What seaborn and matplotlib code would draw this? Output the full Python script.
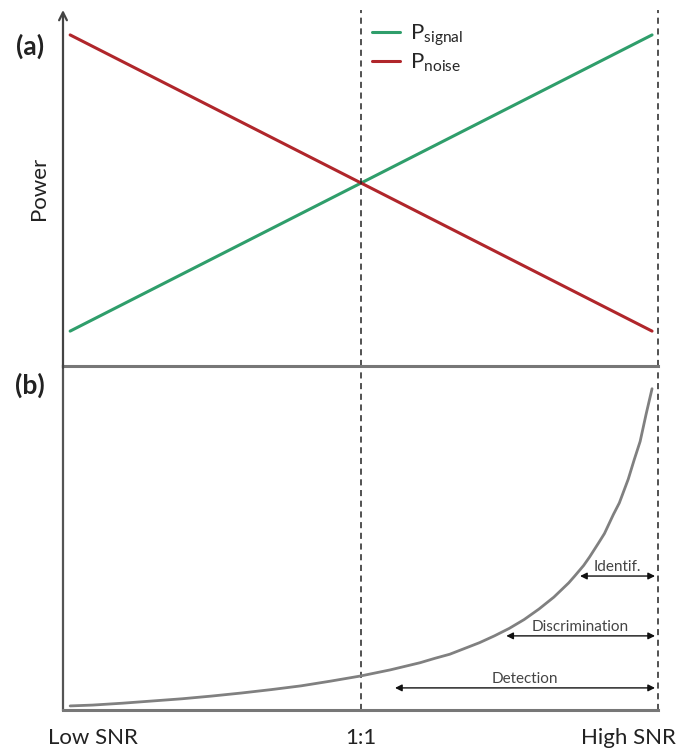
import numpy as np
import pandas as pd
import matplotlib
matplotlib.use("Agg")
import matplotlib.pyplot as plt
import seaborn as sns

# Power of signal and noise along the SNR axis (0 = low SNR, 1 = high SNR)
power_x = [0.012, 0.99]
p_signal = [0.098, 0.93]
p_noise = [0.93, 0.098]

# Signal-to-noise ratio curve
snr_x = [0.012, 0.05, 0.1, 0.15, 0.2, 0.25, 0.3, 0.35, 0.4, 0.45, 0.5, 0.55, 0.6,
         0.625, 0.65, 0.675, 0.7, 0.725, 0.75, 0.775, 0.8, 0.825, 0.85, 0.86,
         0.875, 0.885, 0.9, 0.91, 0.925, 0.935, 0.95, 0.96, 0.97, 0.98, 0.99]
snr_y = [0.12, 0.145, 0.2, 0.265, 0.33, 0.41, 0.5, 0.6, 0.71, 0.85, 1.0, 1.18, 1.39,
         1.52, 1.64, 1.81, 1.98, 2.18, 2.4, 2.66, 2.97, 3.32, 3.74, 3.94,
         4.25, 4.5, 4.91, 5.19, 5.75, 6.09, 6.79, 7.36, 7.9, 8.7, 9.45]

# Regimes shown as double arrows: (label, start, end, height)
regimes = ["Identif.", "Discrimination", "Detection"]
regime_start = [0.869, 0.745, 0.558]
regime_end = [0.995, 0.995, 0.995]
regime_level = [3.94, 2.18, 0.65]

tick_pos = [0.05, 0.5, 0.95]
tick_labels = ["Low SNR", "1:1", "High SNR"]

sns.set_style("white")
plt.rcParams["font.family"] = ["Lato", "DejaVu Sans"]
plt.rcParams["mathtext.fontset"] = "custom"
plt.rcParams["mathtext.rm"] = "Lato"
plt.rcParams["mathtext.it"] = "Lato:italic"

W, H = 680, 751
fig = plt.figure(figsize=(W / 100, H / 100), dpi=100)
left, right = 63 / W, 658 / W
ax_b = fig.add_axes([left, (H - 710) / H, right - left, 344 / H])
ax_a = fig.add_axes([left, (H - 366) / H, right - left, 356 / H])
for ax in (ax_a, ax_b):
    ax.patch.set_alpha(0)

green = "#2f9e6b"
red = "#b0262b"

df_pow = pd.DataFrame({"x": power_x * 2,
                       "power": p_signal + p_noise,
                       "series": ["signal"] * 2 + ["noise"] * 2})
sns.lineplot(data=df_pow, x="x", y="power", hue="series",
             palette={"signal": green, "noise": red}, lw=2.2, ax=ax_a, legend=False)

ax_a.set_xlim(0, 1)
ax_a.set_ylim(0, 1)
for ax in (ax_a, ax_b):
    for xv in (0.5, 1.0):
        ax.axvline(xv, color="#222222", lw=1.1, ls=(0, (4, 3)), clip_on=False)

# Axes framing
for ax in (ax_a, ax_b):
    ax.spines["top"].set_visible(False)
    ax.spines["right"].set_visible(False)
    ax.spines["bottom"].set_color("#777777")
    ax.spines["bottom"].set_linewidth(2.2)
    ax.spines["left"].set_color("#555555")
    ax.spines["left"].set_linewidth(1.6)
    ax.set_yticks([])
    ax.tick_params(length=0)
ax_a.spines["left"].set_visible(False)
ax_a.annotate("", xy=(0, 1.0), xytext=(0, -0.005), xycoords="axes fraction",
              arrowprops=dict(arrowstyle="->", lw=1.6, color="#444444",
                              shrinkA=0, shrinkB=0, mutation_scale=14))
ax_a.set_xticks([])
ax_a.set_xlabel("")
ax_a.set_ylabel("Power", fontsize=16, color="#222222", labelpad=10)

# Legend with subscripted labels
handles = [plt.Line2D([], [], color=green, lw=2.2),
           plt.Line2D([], [], color=red, lw=2.2)]
ax_a.legend(handles, [r"P$_{\mathrm{signal}}$", r"P$_{\mathrm{noise}}$"],
            loc="upper left", bbox_to_anchor=(0.485, 1.02), frameon=False,
            fontsize=16, handlelength=1.3, handletextpad=0.45, labelspacing=0.15)

# Panel (b): SNR curve
df_snr = pd.DataFrame({"x": snr_x, "snr": snr_y})
sns.lineplot(data=df_snr, x="x", y="snr", color="#808080", lw=2.0, ax=ax_b)
ax_b.set_xlim(0, 1)
ax_b.set_ylim(0, 344 / 34)
ax_b.set_xticks(tick_pos)
ax_b.set_xticklabels(tick_labels, fontsize=16, color="#222222")
ax_b.tick_params(axis="x", pad=13)
ax_b.set_xlabel("")
ax_b.set_ylabel("Signal-to-noise ratio", fontsize=16, color="#222222", labelpad=10)

for lab, x0, x1, yv in zip(regimes, regime_start, regime_end, regime_level):
    ax_b.annotate("", xy=(x0, yv), xytext=(x1, yv),
                  arrowprops=dict(arrowstyle="<|-|>", lw=1.0, color="#111111",
                                  shrinkA=0, shrinkB=0, mutation_scale=10))
    ax_b.text((x0 + x1) / 2, yv + 0.05, lab, ha="center", va="bottom",
              fontsize=11, color="#444444")

fig.text(30 / W, 1 - 46 / H, "(a)", fontsize=19, fontweight="bold",
         ha="center", va="center", color="#222222")
fig.text(30 / W, 1 - 385 / H, "(b)", fontsize=19, fontweight="bold",
         ha="center", va="center", color="#222222")

fig.savefig("out.png", dpi=100, facecolor="white")
